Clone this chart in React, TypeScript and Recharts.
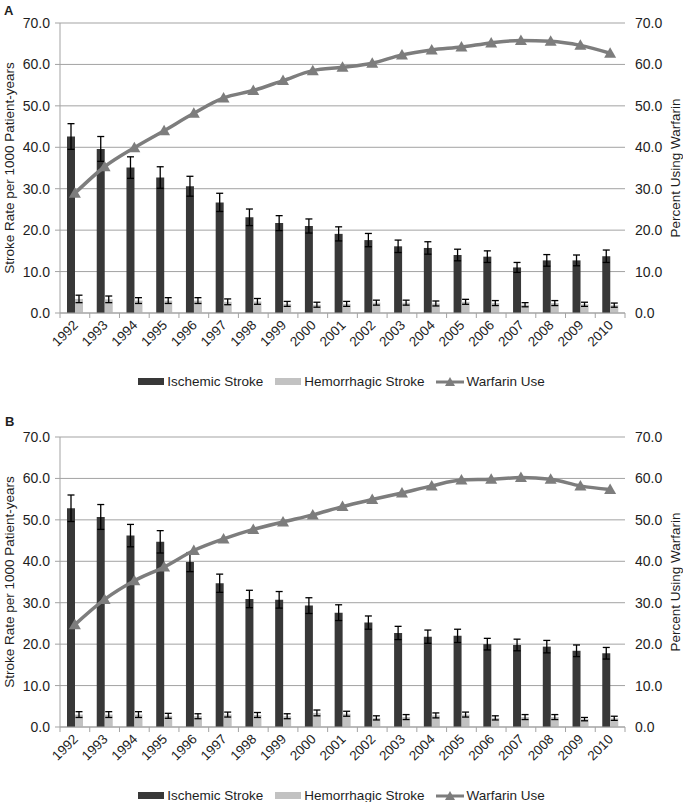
import { ComposedChart, Bar, Line, XAxis, YAxis, CartesianGrid, ErrorBar, Legend } from 'recharts';

const YEARS = ['1992', '1993', '1994', '1995', '1996', '1997', '1998', '1999', '2000', '2001', '2002', '2003', '2004', '2005', '2006', '2007', '2008', '2009', '2010'];
const Y_TICKS = [0, 10, 20, 30, 40, 50, 60, 70];

// panel A
const ISCHEMIC_A = [42.6, 39.6, 35.1, 32.7, 30.6, 26.7, 23.1, 21.7, 21.0, 19.1, 17.6, 16.1, 15.7, 14.0, 13.6, 11.0, 12.7, 12.7, 13.7];
const ISCHEMIC_A_ERR = [3.1, 3.0, 2.6, 2.6, 2.4, 2.2, 2.0, 1.8, 1.7, 1.7, 1.6, 1.5, 1.5, 1.4, 1.4, 1.2, 1.4, 1.3, 1.5];
const HEMORRHAGIC_A = [3.4, 3.3, 3.0, 3.0, 3.0, 2.7, 2.8, 2.2, 2.0, 2.2, 2.5, 2.5, 2.3, 2.7, 2.4, 2.0, 2.4, 2.1, 1.9];
const HEMORRHAGIC_A_ERR = [0.9, 0.8, 0.7, 0.7, 0.7, 0.7, 0.7, 0.6, 0.6, 0.6, 0.6, 0.6, 0.6, 0.6, 0.6, 0.5, 0.6, 0.5, 0.5];
const WARFARIN_A = [28.9, 35.3, 39.9, 44.0, 48.2, 51.9, 53.7, 56.1, 58.5, 59.3, 60.3, 62.3, 63.5, 64.2, 65.2, 65.8, 65.6, 64.6, 62.7];

// panel B
const ISCHEMIC_B = [52.8, 50.7, 46.2, 44.7, 39.8, 34.7, 30.9, 30.7, 29.3, 27.6, 25.2, 22.7, 21.8, 22.0, 20.0, 19.8, 19.4, 18.4, 17.8];
const ISCHEMIC_B_ERR = [3.2, 3.0, 2.7, 2.7, 2.3, 2.2, 2.1, 2.0, 1.9, 1.9, 1.6, 1.6, 1.6, 1.6, 1.4, 1.4, 1.5, 1.4, 1.4];
const HEMORRHAGIC_B = [3.0, 3.0, 3.0, 2.7, 2.6, 3.0, 2.9, 2.6, 3.4, 3.2, 2.2, 2.4, 2.8, 3.0, 2.2, 2.4, 2.4, 1.9, 2.1];
const HEMORRHAGIC_B_ERR = [0.7, 0.7, 0.7, 0.6, 0.6, 0.6, 0.6, 0.6, 0.7, 0.6, 0.5, 0.6, 0.6, 0.6, 0.5, 0.6, 0.6, 0.4, 0.5];
const WARFARIN_B = [24.7, 30.8, 35.3, 38.6, 42.6, 45.4, 47.7, 49.5, 51.2, 53.2, 54.9, 56.5, 58.2, 59.6, 59.8, 60.2, 59.8, 58.2, 57.3];

const FONT = '"Liberation Sans", Arial, sans-serif';
const DARK = '#383838';
const LIGHT = '#c2c2c2';
const LINE = '#7d7d7d';
const GRID = '#a3a3a3';
const TEXT = '#1e1e1e';

const CHART_W = 683;
const CHART_H = 400;
const PLOT_LEFT = 60;
const PLOT_RIGHT = 58;
const BAND = (CHART_W - PLOT_LEFT - PLOT_RIGHT) / YEARS.length;

function YearTick(props: any) {
  const { x, y, payload, index } = props;
  const last = index === YEARS.length - 1;
  return (
    <g>
      <line x1={x - BAND / 2} y1={y} x2={x - BAND / 2} y2={y + 5} stroke={GRID} />
      {last && <line x1={x + BAND / 2} y1={y} x2={x + BAND / 2} y2={y + 5} stroke={GRID} />}
      <text
        x={x + 4}
        y={y + 13}
        textAnchor="end"
        transform={`rotate(-45, ${x + 4}, ${y + 13})`}
        fontSize={13.5}
        fontFamily={FONT}
        fill={TEXT}
      >
        {payload.value}
      </text>
    </g>
  );
}

function Triangle(props: any) {
  const { cx, cy } = props;
  if (cx == null || cy == null) return null;
  return <path d={`M${cx},${cy - 6} L${cx + 6},${cy + 4.5} L${cx - 6},${cy + 4.5} Z`} fill={LINE} />;
}

function SideLabel({ viewBox, text, dx }: any) {
  const { x, y, height } = viewBox;
  const cx = x + dx;
  const cy = y + height / 2;
  return (
    <text
      x={cx}
      y={cy}
      textAnchor="middle"
      dominantBaseline="central"
      transform={`rotate(-90, ${cx}, ${cy})`}
      fontSize={13.5}
      fontFamily={FONT}
      fill={TEXT}
    >
      {text}
    </text>
  );
}

function LegendBox() {
  const item = { display: 'flex', alignItems: 'center', marginRight: 12 };
  const swatch = (c: string) => ({ width: 26, height: 7, background: c, marginRight: 3 });
  return (
    <div style={{ display: 'flex', justifyContent: 'center', alignItems: 'center', height: 37, fontFamily: FONT, fontSize: 13.5, color: TEXT }}>
      <div style={item}>
        <div style={swatch(DARK)} />
        <span>Ischemic Stroke</span>
      </div>
      <div style={item}>
        <div style={swatch(LIGHT)} />
        <span>Hemorrhagic Stroke</span>
      </div>
      <div style={{ display: 'flex', alignItems: 'center' }}>
        <svg width={28} height={12} style={{ marginRight: 2 }}>
          <line x1={0} y1={6} x2={28} y2={6} stroke={LINE} strokeWidth={3} />
          <path d="M14,1 L19,10 L9,10 Z" fill={LINE} />
        </svg>
        <span>Warfarin Use</span>
      </div>
    </div>
  );
}

function Panel({ ischemic, ischemicErr, hemorrhagic, hemorrhagicErr, warfarin }: any) {
  const data = YEARS.map((year, i) => ({
    year,
    ischemic: ischemic[i],
    ischemicErr: ischemicErr[i],
    hemorrhagic: hemorrhagic[i],
    hemorrhagicErr: hemorrhagicErr[i],
    warfarin: warfarin[i],
  }));

  return (
    <ComposedChart
      width={CHART_W}
      height={CHART_H}
      data={data}
      margin={{ top: 23, right: 0, bottom: 0, left: 0 }}
      barGap={0}
    >
      <CartesianGrid vertical={false} stroke={GRID} />
      <XAxis
        dataKey="year"
        height={50}
        interval={0}
        tickLine={false}
        tickSize={0}
        tickMargin={0}
        axisLine={{ stroke: GRID }}
        tick={<YearTick />}
      />
      <YAxis
        width={PLOT_LEFT}
        domain={[0, 70]}
        ticks={Y_TICKS}
        tickFormatter={(v: number) => v.toFixed(1)}
        tick={{ fontSize: 14, fontFamily: FONT, fill: TEXT }}
        tickSize={5}
        tickMargin={5}
        tickLine={{ stroke: GRID }}
        axisLine={{ stroke: GRID }}
        label={(p: any) => <SideLabel {...p} text="Stroke Rate per 1000 Patient-years" dx={9} />}
      />
      <YAxis
        yAxisId="right"
        orientation="right"
        width={PLOT_RIGHT}
        domain={[0, 70]}
        ticks={Y_TICKS}
        tickFormatter={(v: number) => v.toFixed(1)}
        tick={{ fontSize: 14, fontFamily: FONT, fill: TEXT, textAnchor: 'start' }}
        tickLine={false}
        axisLine={false}
        tickSize={6}
        tickMargin={4}
        label={(p: any) => <SideLabel {...p} text="Percent Using Warfarin" dx={50} />}
      />
      <Legend verticalAlign="bottom" content={<LegendBox />} wrapperStyle={{ height: 37 }} />
      <Bar dataKey="ischemic" name="Ischemic Stroke" fill={DARK} barSize={8} isAnimationActive={false}>
        <ErrorBar dataKey="ischemicErr" width={3.5} stroke="#000" strokeWidth={1.3} direction="y" />
      </Bar>
      <Bar dataKey="hemorrhagic" name="Hemorrhagic Stroke" fill={LIGHT} barSize={8} isAnimationActive={false}>
        <ErrorBar dataKey="hemorrhagicErr" width={3.5} stroke="#000" strokeWidth={1.3} direction="y" />
      </Bar>
      <Line
        yAxisId="right"
        type="monotone"
        dataKey="warfarin"
        name="Warfarin Use"
        stroke={LINE}
        strokeWidth={3.5}
        dot={<Triangle />}
        activeDot={false}
        isAnimationActive={false}
      />
    </ComposedChart>
  );
}

export default function App() {
  return (
    <div style={{ position: 'absolute', left: 0, top: 0, width: 683, height: 802, background: '#fff' }}>
      <div style={{ position: 'absolute', left: 0, top: 0 }}>
        <Panel ischemic={ISCHEMIC_A} ischemicErr={ISCHEMIC_A_ERR} hemorrhagic={HEMORRHAGIC_A} hemorrhagicErr={HEMORRHAGIC_A_ERR} warfarin={WARFARIN_A} />
      </div>
      <div style={{ position: 'absolute', left: 0, top: 414 }}>
        <Panel ischemic={ISCHEMIC_B} ischemicErr={ISCHEMIC_B_ERR} hemorrhagic={HEMORRHAGIC_B} hemorrhagicErr={HEMORRHAGIC_B_ERR} warfarin={WARFARIN_B} />
      </div>
      <div style={{ position: 'absolute', left: 4, top: 3, fontFamily: FONT, fontWeight: 'bold', fontSize: 13, color: TEXT }}>A</div>
      <div style={{ position: 'absolute', left: 5, top: 414, fontFamily: FONT, fontWeight: 'bold', fontSize: 13, color: TEXT }}>B</div>
    </div>
  );
}
